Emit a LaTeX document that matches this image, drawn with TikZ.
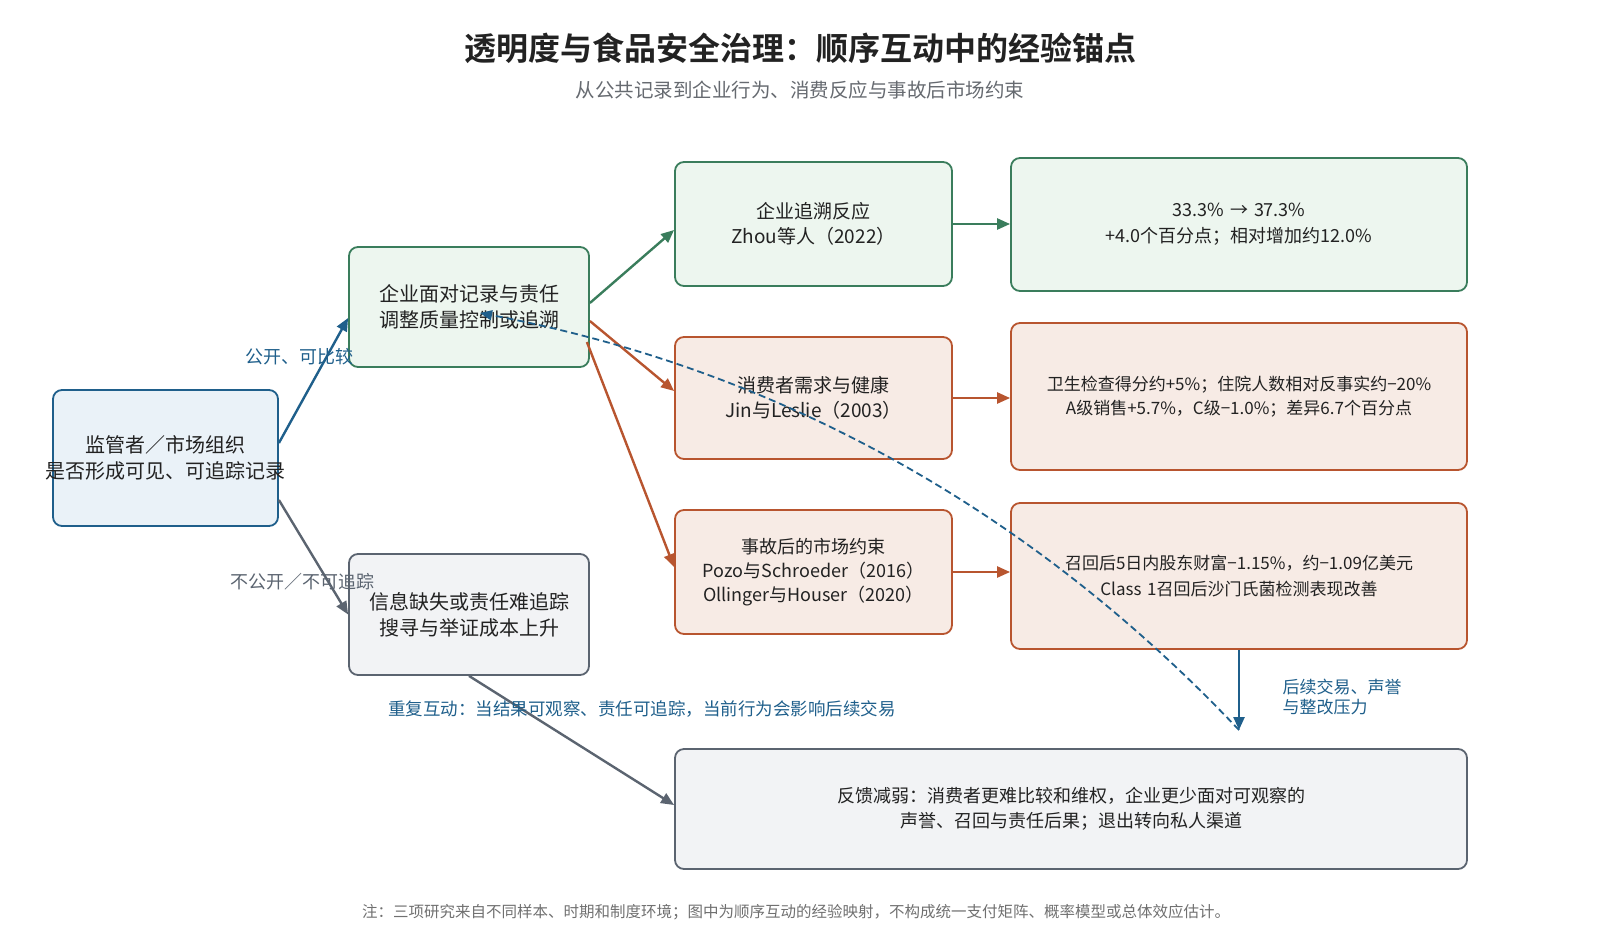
\documentclass[tikz,border=0pt]{standalone}
\usepackage{fontspec}
\setmainfont{Noto Sans CJK SC}[BoldFont={Noto Sans CJK SC Bold}]
\usepackage{tikz}
\usetikzlibrary{arrows.meta}

\definecolor{ink}{HTML}{222222}
\definecolor{subgray}{HTML}{666A70}
\definecolor{notegray}{HTML}{707070}
\definecolor{blueline}{HTML}{1F5F8B}
\definecolor{bluefill}{HTML}{EAF2F8}
\definecolor{greenline}{HTML}{3A7D5C}
\definecolor{greenfill}{HTML}{EDF6EF}
\definecolor{orangeline}{HTML}{B8552F}
\definecolor{orangefill}{HTML}{F7EBE5}
\definecolor{grayline}{HTML}{5B6470}
\definecolor{grayfill}{HTML}{F2F3F5}

\begin{document}
\begin{tikzpicture}[x=1pt, y=-1pt,
	box/.style={draw, rounded corners=9pt, line width=1.8pt, inner sep=0pt, align=center, text=ink, font=\fontsize{19}{25}\selectfont},
	boxsize/.style 2 args={minimum width=#1, text width=#1, minimum height=#2},
	bluebox/.style={box, draw=blueline, fill=bluefill},
	greenbox/.style={box, draw=greenline, fill=greenfill},
	orangebox/.style={box, draw=orangeline, fill=orangefill},
	graybox/.style={box, draw=grayline, fill=grayfill},
	flow/.style={-{Triangle[length=13pt,width=11pt]}, line width=2.4pt},
	lbl/.style={align=center, font=\fontsize{17.5}{20}\selectfont}]
	\useasboundingbox (0,0) rectangle (1600,943);

	% title
	\node[text=ink, font=\fontsize{32}{38}\selectfont\bfseries] (title) at (800,48) {透明度与食品安全治理：顺序互动中的经验锚点};
	\node[text=subgray, font=\fontsize{19.5}{24}\selectfont] (subtitle) at (800,90) {从公共记录到企业行为、消费反应与事故后市场约束};

	% left column
	\node[bluebox, boxsize={225pt}{136pt}, font=\fontsize{20}{26}\selectfont] (reg) at (165.5,458) {监管者／市场组织\\\makebox[\linewidth]{是否形成可见、可追踪记录}};
	\node[greenbox, boxsize={240pt}{120pt}, font=\fontsize{20}{26}\selectfont] (firm) at (469,307) {企业面对记录与责任\\调整质量控制或追溯};
	\node[graybox, boxsize={240pt}{121pt}, font=\fontsize{20}{26}\selectfont] (info) at (469,614.5) {信息缺失或责任难追踪\\搜寻与举证成本上升};

	% studies
	\node[greenbox, boxsize={277pt}{124pt}] (zhou) at (813.5,224) {企业追溯反应\\Zhou等人（2022）};
	\node[orangebox, boxsize={277pt}{122pt}] (jin) at (813.5,398) {消费者需求与健康\\Jin与Leslie（2003）};
	\node[orangebox, boxsize={277pt}{124pt}, font=\fontsize{18}{24}\selectfont] (pozo) at (813.5,572) {事故后的市场约束\\Pozo与Schroeder（2016）\\Ollinger与Houser（2020）};

	% results
	\node[greenbox, boxsize={456pt}{133pt}, font=\fontsize{18}{26}\selectfont] (res1) at (1239,224.5) {33.3\% → 37.3\%\\+4.0个百分点；相对增加约12.0\%};
	\node[orangebox, boxsize={456pt}{147pt}, font=\fontsize{17}{24}\selectfont] (res2) at (1239,396.5) {卫生检查得分约+5\%；住院人数相对反事实约−20\%\\A级销售+5.7\%，C级−1.0\%；差异6.7个百分点};
	\node[orangebox, boxsize={456pt}{146pt}, font=\fontsize{17}{26}\selectfont] (res3) at (1239,576) {召回后5日内股东财富−1.15\%，约−1.09亿美元\\Class 1召回后沙门氏菌检测表现改善};
	\node[graybox, boxsize={792pt}{120pt}, font=\fontsize{18}{25}\selectfont] (fb) at (1071,809) {反馈减弱：消费者更难比较和维权，企业更少面对可观察的\\声誉、召回与责任后果；退出转向私人渠道};

	\coordinate (loopend) at (1239,730);

	% connectors
	\draw[flow, blueline] ([yshift=15pt]reg.east) -- ([yshift=-11pt]firm.west);
	\draw[flow, grayline] ([yshift=-42pt]reg.east) -- (info.west);
	\draw[flow, greenline] ([yshift=4pt]firm.east) -- ([yshift=-6pt]zhou.west);
	\draw[flow, orangeline] ([yshift=-14pt]firm.east) -- ([yshift=7pt]jin.west);
	\draw[flow, orangeline] ([xshift=-3pt,yshift=-35pt]firm.east) -- ([yshift=5pt]pozo.west);
	\draw[flow, greenline] (zhou.east) -- (res1.west |- zhou.east);
	\draw[flow, orangeline] (jin.east) -- (res2.west |- jin.east);
	\draw[flow, orangeline] (pozo.east) -- (res3.west |- pozo.east);
	\draw[flow, grayline] (info.south) -- ([yshift=4pt]fb.west);
	\draw[flow, blueline] (res3.south) -- (loopend);
	\draw[blueline, line width=1.8pt, dash pattern=on 7pt off 4pt, -{Triangle[length=12pt,width=10pt]}]
		(loopend) .. controls (1029,508) and (776,369) .. ([xshift=11pt,yshift=-6pt]firm.center);

	% labels
	\node[lbl, text=blueline, font=\fontsize{18}{22}\selectfont] (pub) at (299,357) {公开、可比较};
	\node[lbl, text=grayline, font=\fontsize{18}{22}\selectfont] (hid) at (302,582) {不公开／不可追踪};
	\node[lbl, text=blueline] (rep) at (642,709) {重复互动：当结果可观察、责任可追踪，当前行为会影响后续交易};
	\node[lbl, text=blueline, anchor=west, align=left, font=\fontsize{17}{19.5}\selectfont] (press) at (1279,697) {后续交易、声誉\\与整改压力};

	% note
	\node[text=notegray, font=\fontsize{15.5}{18}\selectfont] (note) at (796,912) {注：三项研究来自不同样本、时期和制度环境；图中为顺序互动的经验映射，不构成统一支付矩阵、概率模型或总体效应估计。};
\end{tikzpicture}
\end{document}
